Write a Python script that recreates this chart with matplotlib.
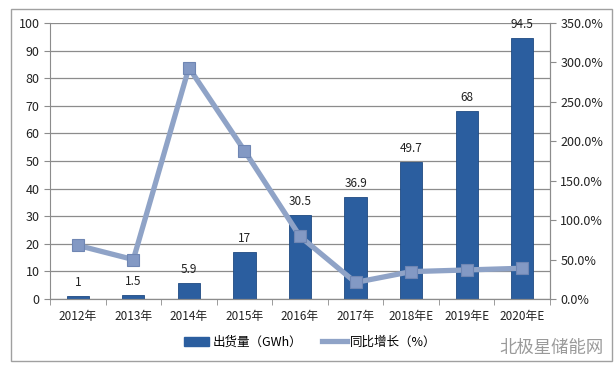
import matplotlib.pyplot as plt
import matplotlib.patches as mpatches
import numpy as np

plt.rcParams['font.family'] = ['Noto Sans CJK SC', 'DejaVu Sans']

# data
years = ["2012年", "2013年", "2014年", "2015年", "2016年", "2017年",
         "2018年E", "2019年E", "2020年E"]
shipments = [1, 1.5, 5.9, 17, 30.5, 36.9, 49.7, 68, 94.5]
growth = [68.0, 50.0, 293.3, 188.1, 79.4, 21.0, 34.7, 36.8, 39.0]

barColor = "#2b5e9f"
lineColor = "#8fa3c7"
markerFace = "#8399c4"
markerEdge = "#6f86b3"
gridColor = "#8c8c8c"

fig = plt.figure(figsize=(6.15, 3.75), dpi=100)
ax = fig.add_axes([0.0813, 0.2027, 0.8130, 0.7360])
ax2 = ax.twinx()

x = np.arange(len(years))
ax.bar(x, shipments, width=0.4, color=barColor, edgecolor="#1f4a82",
       linewidth=0.6, zorder=2)
for xi, v in zip(x, shipments):
    ax.text(xi, v + 2.5, f"{v:g}", ha="center", va="bottom", fontsize=8.5,
            color="#222222")

ax2.plot(x, growth, color=lineColor, linewidth=3.8, marker="s",
         markersize=8.5, markerfacecolor=markerFace,
         markeredgecolor=markerEdge, markeredgewidth=0.8, zorder=3)

ax.set_xlim(-0.5, len(years) - 0.5)
ax.set_ylim(0, 100)
ax.set_yticks(range(0, 101, 10))
ax2.set_ylim(0, 350)
ax2.set_yticks(range(0, 351, 50))
ax2.set_yticklabels([f"{t:.1f}%" for t in range(0, 351, 50)])

ax.set_xticks(x)
ax.set_xticklabels(years)
ax.set_xticks(np.arange(-0.5, len(years)), minor=True)
ax.tick_params(axis="x", which="major", length=0, labelsize=8.5, pad=8,
               colors="#222222")
ax.tick_params(axis="x", which="minor", length=4, color=gridColor)
ax.tick_params(axis="y", length=4, color=gridColor, labelsize=9,
               colors="#222222")
ax2.tick_params(axis="y", length=4, color=gridColor, labelsize=9,
                colors="#222222")
for t in ax.get_yticklabels() + ax2.get_yticklabels():
    t.set_color("#222222")

ax.yaxis.grid(True, color=gridColor, linewidth=0.9, zorder=0)
ax.set_axisbelow(True)
for a in (ax, ax2):
    a.spines["top"].set_visible(False)
    for s in ("left", "right", "bottom"):
        a.spines[s].set_color(gridColor)
ax2.spines["left"].set_visible(False)

# legend
handles = [mpatches.Patch(color=barColor, label="出货量（GWh）"),
           plt.Line2D([], [], color=lineColor, linewidth=3.8,
                      label="同比增长（%）")]
fig.legend(handles=handles, loc="center", bbox_to_anchor=(0.505, 0.088),
           ncol=2, frameon=False, fontsize=9, handlelength=2.0,
           handletextpad=0.3, columnspacing=1.5)

# outer chart border
fig.patches.append(mpatches.Rectangle((0.018, 0.037), 0.977, 0.94,
                                      transform=fig.transFigure, fill=False,
                                      edgecolor="#a0a0a0", linewidth=1.0))
fig.text(0.982, 0.073, "北极星储能网", ha="right", va="center", fontsize=12.5,
         color="#9a9a9a")

fig.savefig("out.png", dpi=100)
